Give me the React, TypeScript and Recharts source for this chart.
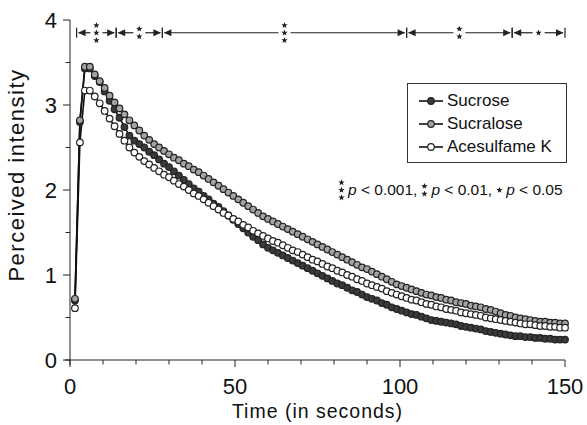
import { LineChart, Line, XAxis, YAxis, ReferenceLine, Legend, Label } from 'recharts';

// time points (s), one sample every 1.5 s
const times = [
  1.5, 3, 4.5, 6, 7.5, 9, 10.5, 12, 13.5, 15, 16.5, 18, 19.5, 21, 22.5, 24, 25.5, 27, 28.5, 30,
  31.5, 33, 34.5, 36, 37.5, 39, 40.5, 42, 43.5, 45, 46.5, 48, 49.5, 51, 52.5, 54, 55.5, 57, 58.5, 60,
  61.5, 63, 64.5, 66, 67.5, 69, 70.5, 72, 73.5, 75, 76.5, 78, 79.5, 81, 82.5, 84, 85.5, 87, 88.5, 90,
  91.5, 93, 94.5, 96, 97.5, 99, 100.5, 102, 103.5, 105, 106.5, 108, 109.5, 111, 112.5, 114, 115.5, 117, 118.5, 120,
  121.5, 123, 124.5, 126, 127.5, 129, 130.5, 132, 133.5, 135, 136.5, 138, 139.5, 141, 142.5, 144, 145.5, 147, 148.5, 150,
];

const sucrose = [
  0.70, 2.80, 3.43, 3.43, 3.34, 3.27, 3.16, 3.05, 2.95, 2.85, 2.74, 2.64, 2.58, 2.54, 2.50, 2.45, 2.41, 2.36, 2.31, 2.27,
  2.22, 2.17, 2.12, 2.07, 2.02, 1.98, 1.93, 1.89, 1.84, 1.80, 1.75, 1.70, 1.65, 1.60, 1.55, 1.50, 1.45, 1.41, 1.36, 1.32,
  1.29, 1.26, 1.23, 1.20, 1.17, 1.14, 1.11, 1.08, 1.05, 1.02, 0.99, 0.96, 0.93, 0.90, 0.88, 0.85, 0.82, 0.80, 0.77, 0.74,
  0.72, 0.70, 0.67, 0.65, 0.62, 0.60, 0.58, 0.56, 0.54, 0.53, 0.51, 0.49, 0.47, 0.46, 0.45, 0.44, 0.43, 0.42, 0.40, 0.39,
  0.38, 0.37, 0.36, 0.34, 0.33, 0.32, 0.31, 0.30, 0.29, 0.28, 0.28, 0.27, 0.27, 0.26, 0.26, 0.25, 0.25, 0.24, 0.24, 0.24,
];

const sucralose = [
  0.72, 2.82, 3.45, 3.45, 3.36, 3.28, 3.20, 3.11, 3.03, 2.96, 2.89, 2.82, 2.76, 2.70, 2.64, 2.59, 2.54, 2.50, 2.46, 2.42,
  2.38, 2.35, 2.31, 2.28, 2.24, 2.21, 2.17, 2.13, 2.09, 2.05, 2.01, 1.97, 1.93, 1.89, 1.85, 1.81, 1.77, 1.73, 1.69, 1.66,
  1.63, 1.60, 1.57, 1.54, 1.51, 1.48, 1.45, 1.42, 1.39, 1.36, 1.33, 1.30, 1.27, 1.24, 1.21, 1.18, 1.15, 1.12, 1.09, 1.07,
  1.04, 1.01, 0.98, 0.95, 0.92, 0.89, 0.87, 0.85, 0.83, 0.81, 0.79, 0.77, 0.76, 0.74, 0.73, 0.71, 0.70, 0.68, 0.67, 0.66,
  0.64, 0.63, 0.62, 0.60, 0.59, 0.57, 0.55, 0.53, 0.52, 0.50, 0.49, 0.48, 0.47, 0.46, 0.45, 0.45, 0.44, 0.44, 0.43, 0.43,
];

const acesulfameK = [
  0.61, 2.56, 3.17, 3.17, 3.10, 3.02, 2.93, 2.84, 2.75, 2.66, 2.58, 2.50, 2.44, 2.39, 2.34, 2.30, 2.26, 2.22, 2.18, 2.15,
  2.11, 2.07, 2.04, 2.00, 1.96, 1.93, 1.89, 1.85, 1.81, 1.77, 1.73, 1.70, 1.66, 1.63, 1.59, 1.56, 1.52, 1.49, 1.46, 1.43,
  1.40, 1.38, 1.35, 1.32, 1.29, 1.27, 1.24, 1.21, 1.18, 1.16, 1.13, 1.10, 1.08, 1.05, 1.03, 1.00, 0.98, 0.95, 0.93, 0.90,
  0.88, 0.86, 0.84, 0.81, 0.79, 0.77, 0.75, 0.73, 0.71, 0.70, 0.68, 0.66, 0.65, 0.63, 0.62, 0.60, 0.59, 0.58, 0.56, 0.55,
  0.54, 0.53, 0.52, 0.50, 0.49, 0.48, 0.47, 0.46, 0.45, 0.44, 0.43, 0.42, 0.42, 0.41, 0.40, 0.40, 0.39, 0.39, 0.38, 0.38,
];

const xTicks = [0, 10, 20, 30, 40, 50, 60, 70, 80, 90, 100, 110, 120, 130, 140, 150];
const xLabelled = [0, 50, 100, 150];
const yTicks = [0, 0.5, 1, 1.5, 2, 2.5, 3, 3.5, 4];

// significance brackets along the top
const sigSpans = [
  { from: 2, to: 14, stars: 3 },
  { from: 14, to: 28, stars: 2 },
  { from: 28, to: 102, stars: 3 },
  { from: 102, to: 134, stars: 2 },
  { from: 134, to: 150, stars: 1 },
];
const sigLevel = 3.85;

const sigKey = [
  { stars: 3, text: ' < 0.001,' },
  { stars: 2, text: ' < 0.01,' },
  { stars: 1, text: ' < 0.05' },
];

const series = [
  { key: 'sucrose', name: 'Sucrose', fill: '#3a3a3a' },
  { key: 'sucralose', name: 'Sucralose', fill: '#a3a3a3' },
  { key: 'acesulfameK', name: 'Acesulfame K', fill: '#ffffff' },
];

const data = times.map((t, i) => ({
  t,
  sucrose: sucrose[i],
  sucralose: sucralose[i],
  acesulfameK: acesulfameK[i],
}));

const FONT = '"Liberation Sans", Arial, sans-serif';

function starPoints(cx: number, cy: number, r: number) {
  const pts: string[] = [];
  for (let i = 0; i < 10; i++) {
    const a = -Math.PI / 2 + (i * Math.PI) / 5;
    const rr = i % 2 === 0 ? r : r * 0.42;
    pts.push(`${(cx + rr * Math.cos(a)).toFixed(2)},${(cy + rr * Math.sin(a)).toFixed(2)}`);
  }
  return pts.join(' ');
}

function starOffsets(n: number) {
  if (n === 3) return [-7.5, 0, 7.5];
  if (n === 2) return [-3.8, 3.8];
  return [0];
}

const StarStack = ({ cx, cy, n }: { cx: number; cy: number; n: number }) => (
  <g>
    {starOffsets(n).map((d) => (
      <polygon key={d} points={starPoints(cx, cy + d, 3.3)} fill="#222" />
    ))}
  </g>
);

const SigBracket = (props: any) => {
  const { x1, x2, y1, stars } = props;
  const y = y1;
  const mid = (x1 + x2) / 2;
  const gap = 6;
  const c = '#222';
  return (
    <g>
      <line x1={x1} y1={y - 5} x2={x1} y2={y + 5} stroke={c} strokeWidth={1.2} />
      <line x1={x2} y1={y - 5} x2={x2} y2={y + 5} stroke={c} strokeWidth={1.2} />
      <line x1={x1 + 2} y1={y} x2={mid - gap} y2={y} stroke={c} strokeWidth={1.2} />
      <line x1={mid + gap} y1={y} x2={x2 - 2} y2={y} stroke={c} strokeWidth={1.2} />
      <polygon points={`${x1 + 1.5},${y} ${x1 + 9},${y - 3.5} ${x1 + 9},${y + 3.5}`} fill={c} />
      <polygon points={`${x2 - 1.5},${y} ${x2 - 9},${y - 3.5} ${x2 - 9},${y + 3.5}`} fill={c} />
      <StarStack cx={mid} cy={y} n={stars} />
    </g>
  );
};

const XTick = (props: any) => {
  const { x, y, payload } = props;
  const v = payload.value;
  const major = xLabelled.includes(v);
  return (
    <g>
      <line x1={x} y1={y} x2={x} y2={y + (major ? 7 : 4.5)} stroke="#222" strokeWidth={1} />
      {v === 0 && <line x1={x - 5} y1={y} x2={x} y2={y} stroke="#222" strokeWidth={1} />}
      {major && (
        <text x={x} y={y + 34} textAnchor="middle" fontSize={22} fill="#111" fontFamily={FONT}>
          {v}
        </text>
      )}
    </g>
  );
};

const YTick = (props: any) => {
  const { x, y, payload } = props;
  const v = payload.value;
  const major = Number.isInteger(v);
  return (
    <g>
      <line x1={x} y1={y} x2={x - (major ? 7 : 4.5)} y2={y} stroke="#222" strokeWidth={1} />
      {v === 0 && <line x1={x} y1={y} x2={x} y2={y + 5} stroke="#222" strokeWidth={1} />}
      {major && (
        <text x={x - 13} y={y + 8} textAnchor="end" fontSize={22} fill="#111" fontFamily={FONT}>
          {v}
        </text>
      )}
    </g>
  );
};

const LegendBox = () => (
  <div
    style={{
      border: '1.5px solid #333',
      background: '#fff',
      padding: '5px 8px 4px 10px',
      fontFamily: FONT,
      fontSize: 17,
      color: '#111',
      boxSizing: 'border-box',
      width: 160,
    }}
  >
    {series.map((s) => (
      <div key={s.key} style={{ display: 'flex', alignItems: 'center', height: 23 }}>
        <svg width={26} height={12} style={{ marginRight: 3 }}>
          <line x1={1} y1={6} x2={25} y2={6} stroke="#111" strokeWidth={1.6} />
          <circle cx={13} cy={6} r={3.3} fill={s.fill} stroke="#222" strokeWidth={1.2} />
        </svg>
        <span>{s.name}</span>
      </div>
    ))}
  </div>
);

const KeyStars = ({ n }: { n: number }) => (
  <svg width={9} height={22} style={{ display: 'block' }}>
    <StarStack cx={4.5} cy={11} n={n} />
  </svg>
);

export default function App() {
  return (
    <div style={{ position: 'absolute', left: 0, top: 0, width: 587, height: 425, background: '#fff', fontFamily: FONT }}>
      <LineChart
        width={587}
        height={425}
        data={data}
        margin={{ top: 20, right: 22, bottom: 0, left: 0 }}
      >
        <XAxis
          dataKey="t"
          type="number"
          domain={[0, 150]}
          ticks={xTicks}
          interval={0}
          height={65}
          tickSize={0}
          tickMargin={0}
          tickLine={false}
          axisLine={{ stroke: '#222', strokeWidth: 1 }}
          tick={<XTick />}
        >
          <Label
            content={(p: any) => {
              const vb = p.viewBox;
              return (
                <text x={vb.x + vb.width / 2} y={vb.y + 58} textAnchor="middle" fontSize={19.5} letterSpacing={1} fill="#111" fontFamily={FONT}>
                  Time (in seconds)
                </text>
              );
            }}
          />
        </XAxis>
        <YAxis
          type="number"
          domain={[0, 4]}
          ticks={yTicks}
          interval={0}
          width={70}
          tickSize={0}
          tickMargin={0}
          tickLine={false}
          axisLine={{ stroke: '#222', strokeWidth: 1 }}
          tick={<YTick />}
        >
          <Label
            content={(p: any) => {
              const vb = p.viewBox;
              const cx = vb.x + 24;
              const cy = vb.y + vb.height / 2 - 15;
              return (
                <text x={cx} y={cy} transform={`rotate(-90 ${cx} ${cy})`} textAnchor="middle" fontSize={22} letterSpacing={1.5} fill="#111" fontFamily={FONT}>
                  Perceived intensity
                </text>
              );
            }}
          />
        </YAxis>
        {sigSpans.map((s) => (
          <ReferenceLine
            key={s.from}
            segment={[{ x: s.from, y: sigLevel }, { x: s.to, y: sigLevel }]}
            ifOverflow="visible"
            shape={(p: any) => <SigBracket {...p} stars={s.stars} />}
          />
        ))}
        {series.map((s) => (
          <Line
            key={s.key}
            dataKey={s.key}
            name={s.name}
            type="linear"
            stroke="#111"
            strokeWidth={1.6}
            dot={{ r: 3.3, fill: s.fill, stroke: '#222', strokeWidth: 1.2 }}
            activeDot={false}
            isAnimationActive={false}
          />
        ))}
        <Legend
          layout="vertical"
          align="center"
          verticalAlign="middle"
          content={() => <LegendBox />}
          wrapperStyle={{ left: 407, top: 83, width: 160, height: 'auto' }}
        />
      </LineChart>
      <div
        style={{
          position: 'absolute',
          left: 337,
          top: 179,
          display: 'flex',
          alignItems: 'center',
          fontSize: 15.5,
          color: '#111',
          whiteSpace: 'nowrap',
        }}
      >
        {sigKey.map((k) => (
          <span key={k.stars} style={{ display: 'flex', alignItems: 'center', marginRight: 3 }}>
            <KeyStars n={k.stars} />
            <i style={{ marginLeft: 2 }}>p</i>
            <span style={{ whiteSpace: 'pre' }}>{k.text}</span>
          </span>
        ))}
      </div>
    </div>
  );
}
